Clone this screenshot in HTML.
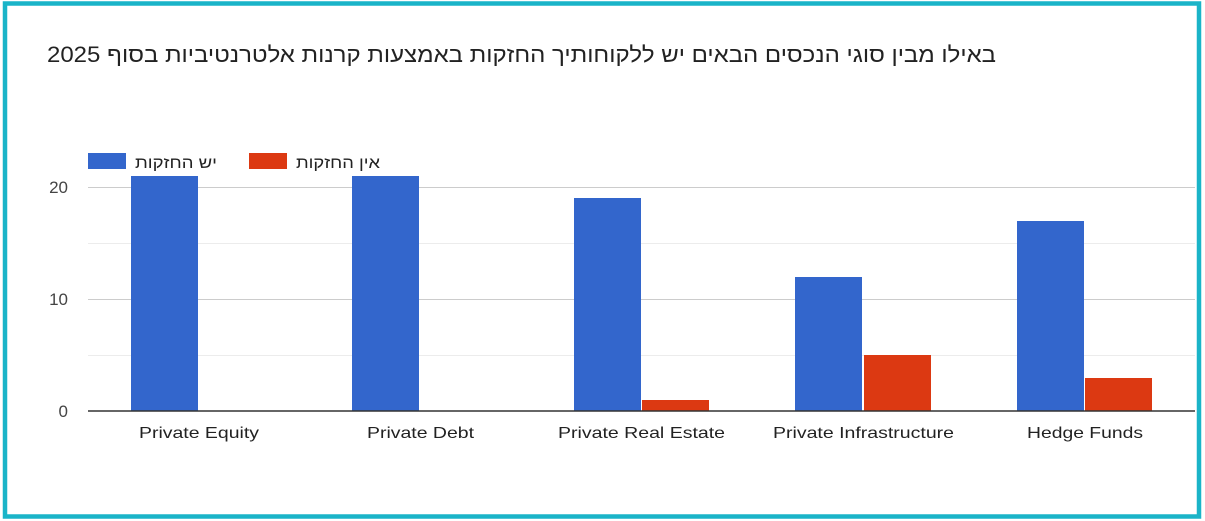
<!DOCTYPE html>
<html><head><meta charset="utf-8"><style>
html,body{margin:0;padding:0;background:#fff;width:1205px;height:521px;overflow:hidden}
</style></head><body>
<svg width="1205" height="521" xmlns="http://www.w3.org/2000/svg" font-family="Liberation Sans, Arial, sans-serif">
<rect x="0" y="0" width="1205" height="521" fill="#fff"/>
<rect x="5" y="3.5" width="1194" height="513" fill="none" stroke="#1ab4c8" stroke-width="4.5"/>
<text x="996" y="62" font-size="22" fill="#222" text-anchor="start" direction="rtl" textLength="949" lengthAdjust="spacingAndGlyphs" font-family="Liberation Sans, DejaVu Sans, sans-serif">באילו מבין סוגי הנכסים הבאים יש ללקוחותיך החזקות באמצעות קרנות אלטרנטיביות בסוף 2025</text>
<rect x="88" y="153" width="38" height="16" fill="#3366cc"/>
<text x="217" y="168" font-size="16" fill="#222" text-anchor="start" direction="rtl" textLength="82" lengthAdjust="spacingAndGlyphs" font-family="Liberation Sans, DejaVu Sans, sans-serif">יש החזקות</text>
<rect x="249" y="153" width="38" height="16" fill="#dc3912"/>
<text x="380" y="168" font-size="16" fill="#222" text-anchor="start" direction="rtl" textLength="84" lengthAdjust="spacingAndGlyphs" font-family="Liberation Sans, DejaVu Sans, sans-serif">אין החזקות</text>
<g stroke="#ececec" stroke-width="1">
<line x1="88" y1="355.5" x2="1195" y2="355.5"/>
<line x1="88" y1="243.5" x2="1195" y2="243.5"/>
</g>
<g stroke="#cccccc" stroke-width="1">
<line x1="88" y1="299.5" x2="1195" y2="299.5"/>
<line x1="88" y1="187.5" x2="1195" y2="187.5"/>
</g>
<g font-size="17" fill="#444" text-anchor="end">
<text x="68" y="417">0</text>
<text x="68" y="305">10</text>
<text x="68" y="193">20</text>
</g>
<g fill="#3366cc">
<rect x="131" y="176" width="67" height="235"/>
<rect x="352" y="176" width="67" height="235"/>
<rect x="574" y="198" width="67" height="213"/>
<rect x="795" y="277" width="67" height="134"/>
<rect x="1017" y="221" width="67" height="190"/>
</g>
<g fill="#dc3912">
<rect x="642" y="400" width="67" height="11"/>
<rect x="864" y="355" width="67" height="56"/>
<rect x="1085" y="378" width="67" height="33"/>
</g>
<line x1="88" y1="411" x2="1195" y2="411" stroke="#333" stroke-width="1.5"/>
<g font-size="16" fill="#222" lengthAdjust="spacingAndGlyphs">
<text x="139" y="438" textLength="120" lengthAdjust="spacingAndGlyphs">Private Equity</text>
<text x="367" y="438" textLength="107" lengthAdjust="spacingAndGlyphs">Private Debt</text>
<text x="558" y="438" textLength="167" lengthAdjust="spacingAndGlyphs">Private Real Estate</text>
<text x="773" y="438" textLength="181" lengthAdjust="spacingAndGlyphs">Private Infrastructure</text>
<text x="1027" y="438" textLength="116" lengthAdjust="spacingAndGlyphs">Hedge Funds</text>
</g>
</svg>
</body></html>
